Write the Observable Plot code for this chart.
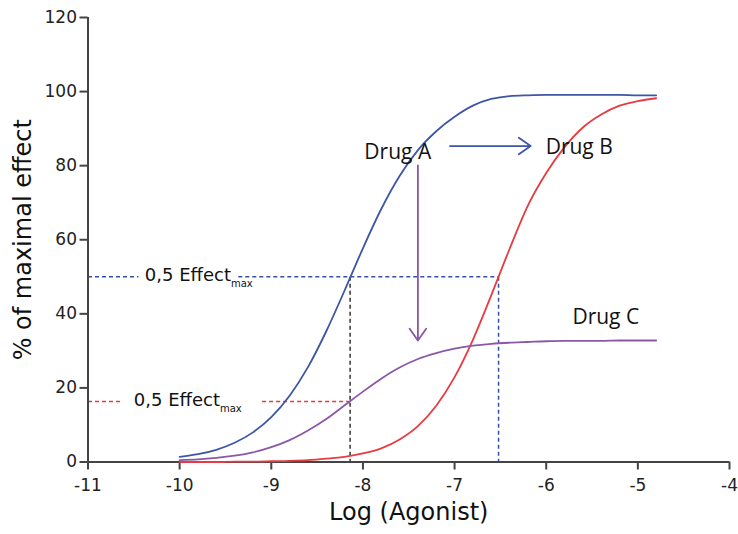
<!DOCTYPE html>
<html><head><meta charset="utf-8">
<script src="https://cdn.jsdelivr.net/npm/d3@7"></script>
<script src="https://cdn.jsdelivr.net/npm/@observablehq/plot@0.6"></script>
<style>body{margin:0;background:#fff;} svg{display:block;}</style>
</head><body><div id="chart"></div>
<script>
// ---- data ----
const logAgonist = [-10,-9.8,-9.6,-9.4,-9.2,-9.0,-8.8,-8.6,-8.4,-8.2,-8.0,-7.8,-7.6,-7.4,-7.2,-7.0,-6.8,-6.6,-6.4,-6.2,-6.0,-5.8,-5.6,-5.4,-5.2,-5.0,-4.8];
const drugA = [1.4,2.1,3.3,5.2,8.0,12.1,17.9,25.6,35.3,46.3,57.7,68.3,77.2,84.2,89.3,93.2,96.2,98.0,98.8,99.0,99.1,99.1,99.1,99.1,99.1,99.0,99.0];
const drugB = [0.0,0.0,0.0,0.1,0.1,0.2,0.3,0.5,0.9,1.4,2.3,3.7,6.1,9.7,15.2,22.9,33.0,45.0,57.5,69.2,78.0,85.0,90.3,93.8,96.2,97.4,98.2];
const drugC = [0.5,0.7,1.1,1.7,2.6,4.0,5.9,8.5,11.6,15.3,19.0,22.5,25.5,27.8,29.4,30.6,31.4,31.9,32.2,32.4,32.6,32.7,32.7,32.7,32.8,32.8,32.8];
const seriesNames = ["Drug A","Drug B","Drug C"];
const seriesColors = ["#3d56a6","#e63b42","#8b58a8"];
const seriesLabelX = [-7.62,-5.64,-5.35];
const seriesLabelY = [83.6,85.0,39.1];
const xTicks = [-11,-10,-9,-8,-7,-6,-5,-4];
const yTicks = [0,20,40,60,80,100,120];
const ec50A = -8.14, ec50B = -6.52;
const halfMaxA = 50, halfMaxC = 16.3;
const halfLabel = "0,5 Effect";
const halfLabelSub = "max";
const halfLabelX = [-10.38,-10.50];
const halfLabelY = [50.4,16.6];
const xTitle = "Log (Agonist)";
const yTitle = "% of maximal effect";
// arrows: potency shift (A -> B) and efficacy drop (A -> C)
const arrowFrom = [[-7.05,85.3],[-7.40,80.1]];
const arrowTo = [[-6.17,85.3],[-7.40,32.8]];
const arrowColors = ["#3d56a6","#8b58a8"];

// ---- tables ----
const curves = [];
[drugA, drugB, drugC].forEach((vals, i) => vals.forEach((v, j) => curves.push({x: logAgonist[j], y: v, drug: seriesNames[i]})));
const seriesLabels = seriesNames.map((n, i) => ({x: seriesLabelX[i], y: seriesLabelY[i], text: n}));
const dashed = [
  {x1: -11, x2: -10.45, y1: halfMaxA, y2: halfMaxA, c: "#3550a5"},
  {x1: -9.36, x2: ec50B, y1: halfMaxA, y2: halfMaxA, c: "#3550a5"},
  {x1: ec50B, x2: ec50B, y1: halfMaxA, y2: 0, c: "#3550a5"},
  {x1: -11, x2: -10.62, y1: halfMaxC, y2: halfMaxC, c: "#e63b42"},
  {x1: -9.10, x2: ec50A, y1: halfMaxC, y2: halfMaxC, c: "#e63b42"},
  {x1: ec50A, x2: ec50A, y1: halfMaxA, y2: 0, c: "#333333"}
];
const halfLabels = halfLabelX.map((x, i) => ({x, y: halfLabelY[i], text: halfLabel + "|" + halfLabelSub}));
const arrows = arrowFrom.map((f, i) => ({x1: f[0], y1: f[1], x2: arrowTo[i][0], y2: arrowTo[i][1], c: arrowColors[i]}));

const font = "'DejaVu Sans', sans-serif";
const labelFont = "'Open Sans', sans-serif";
const chart = Plot.plot({
  width: 738, height: 534,
  marginLeft: 87.5, marginRight: 9, marginTop: 17, marginBottom: 72.5,
  style: {fontFamily: font, background: "#fff", color: "#222"},
  x: {domain: [-11, -4]},
  y: {domain: [0, 120]},
  color: {domain: seriesNames, range: seriesColors},
  marks: [
    Plot.link(dashed, {x1: "x1", y1: "y1", x2: "x2", y2: "y2", stroke: "c", strokeWidth: 1.5, strokeDasharray: "4,3"}),
    Plot.ruleX([-11], {y1: 0, y2: 120, stroke: "#444", strokeWidth: 2}),
    Plot.ruleY([0], {x1: -11, x2: -4, stroke: "#444", strokeWidth: 2}),
    Plot.axisY({ticks: yTicks, tickSize: 8, tickPadding: 3, fontSize: 17, stroke: "#444", strokeWidth: 2, fill: "#222", label: null, tickFormat: d => String(d)}),
    Plot.axisX({ticks: xTicks, tickSize: 8, tickPadding: 9, fontSize: 17, stroke: "#444", strokeWidth: 2, fill: "#222", label: null, tickFormat: d => String(d)}),
    Plot.line(curves, {x: "x", y: "y", z: "drug", stroke: "drug", strokeWidth: 1.8, curve: "monotone-x"}),
    Plot.arrow(arrows, {x1: "x1", y1: "y1", x2: "x2", y2: "y2", stroke: "c", strokeWidth: 1.8, headLength: 12, headAngle: 70}),
    Plot.text(seriesLabels, {x: "x", y: "y", text: "text", fontSize: 21, fontFamily: labelFont, fill: "#111"}),
    Plot.text(halfLabels, {x: "x", y: "y", text: "text", fontSize: 18, fill: "#111", textAnchor: "start"}),
    Plot.text([xTitle], {frameAnchor: "bottom", textAnchor: "middle", dy: 58, fontSize: 24, fill: "#111"}),
    Plot.text([yTitle], {frameAnchor: "left", textAnchor: "middle", dx: -65, rotate: -90, fontSize: 24, fill: "#111"})
  ]
});
d3.select(chart).selectAll("text").each(function() {
  const t = this.textContent;
  if (t.includes("|")) {
    const [main, sub] = t.split("|");
    this.textContent = main;
    d3.select(this).append("tspan").attr("font-size", 10).attr("dy", "0.6em").text(sub);
  }
});
document.getElementById("chart").appendChild(chart);
</script></body></html>
